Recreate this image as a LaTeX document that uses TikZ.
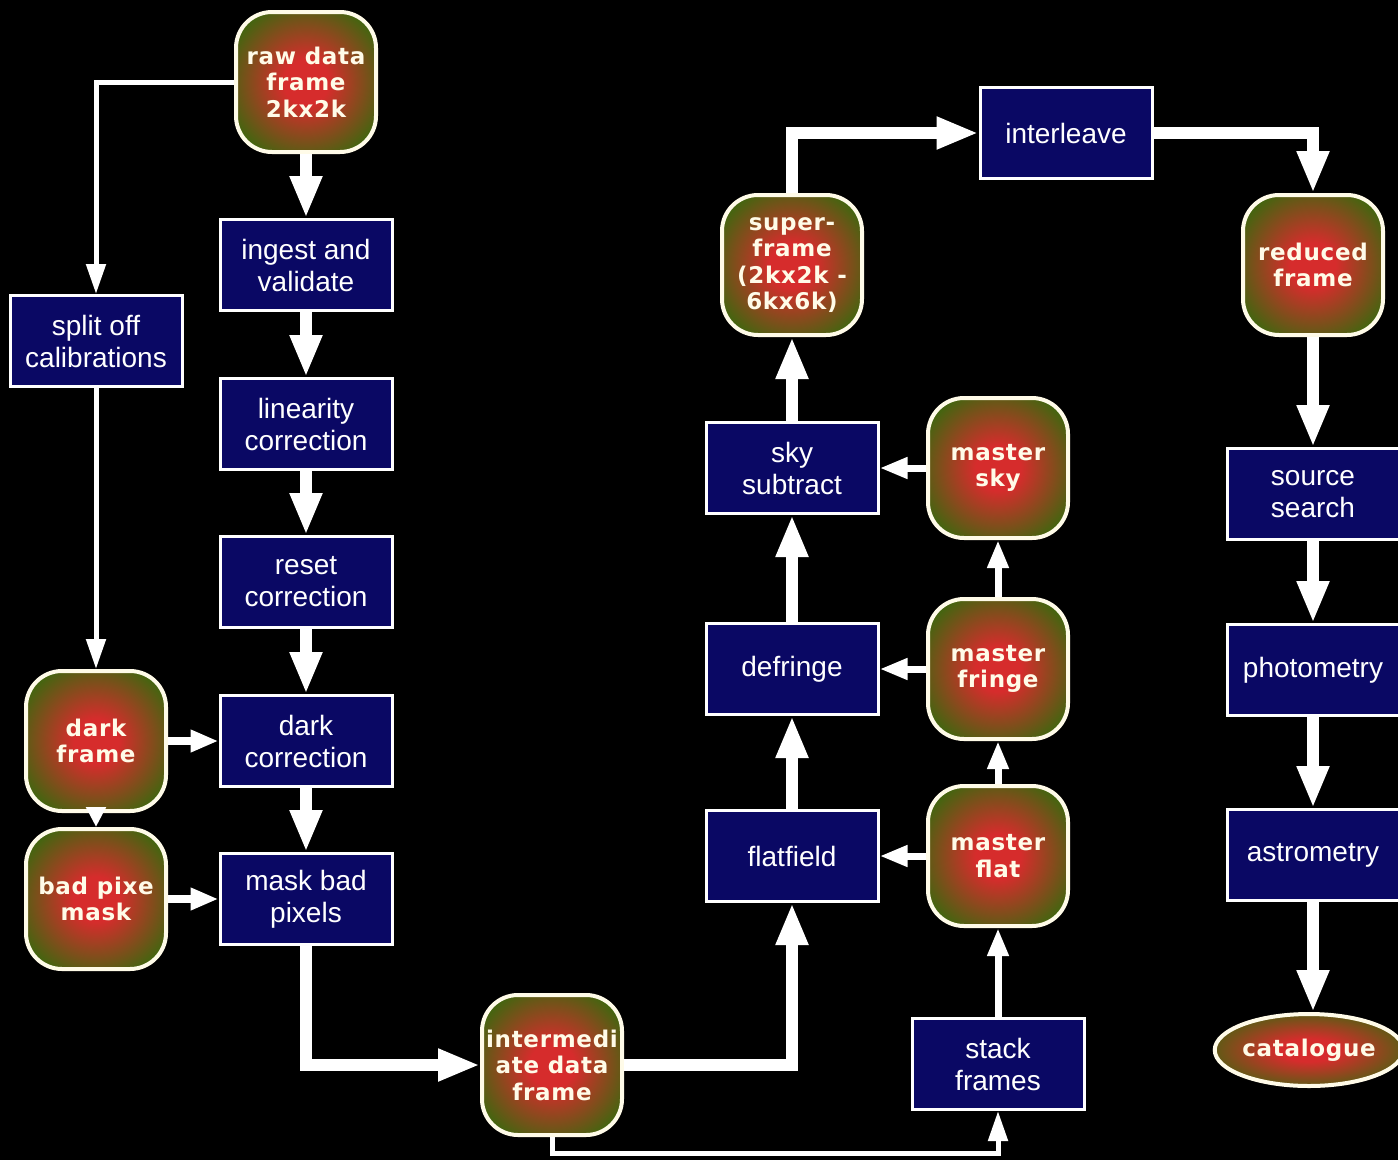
\documentclass[tikz,border=0pt]{standalone}
\usepackage{fontspec}
\setmainfont{Liberation Sans}
\newfontfamily\heavyfont{DejaVu Sans}[LetterSpace=3]
\usetikzlibrary{arrows.meta,shapes.geometric}
\definecolor{navy}{RGB}{10,8,100}
\definecolor{gred}{RGB}{214,44,44}
\definecolor{golive}{RGB}{70,100,16}
\definecolor{cream}{RGB}{255,251,232}
\pgfdeclareradialshading{glow}{\pgfpoint{0bp}{0bp}}{color(0bp)=(gred); color(8bp)=(gred); color(29bp)=(golive); color(50bp)=(golive)}
\tikzset{
  procbox/.style={draw=white, line width=3pt, fill=navy, minimum width=172pt, minimum height=91pt,
    inner sep=0pt, text=white, align=center, font=\fontsize{28}{32}\selectfont},
  databox/.style={draw=cream, line width=4pt, shade, shading=glow, rounded corners=36pt,
    minimum width=140pt, minimum height=140pt, inner sep=0pt, text=cream, align=center,
    font=\heavyfont\bfseries\fontsize{23}{26.5}\selectfont},
  bigarrow/.style={draw=white, line width=12pt, -{Triangle[length=42pt,width=30pt]}},
  midarrow/.style={draw=white, line width=8pt, -{Triangle[length=28pt,width=21pt]}},
  sidearrow/.style={draw=white, line width=7pt, -{Triangle[length=28pt,width=20pt]}},
  thinarrow/.style={draw=white, line width=5pt, -{Triangle[length=30pt,width=19pt]}},
}
\begin{document}
\begin{tikzpicture}[x=1pt,y=-1pt]
\fill[black] (0,0) rectangle (1398,1160);
\useasboundingbox (0,0) rectangle (1398,1160);
% left column
\node[databox] (raw) at (306,82) {raw data\\frame\\2kx2k};
\node[procbox] (ingest) at (306,265) {ingest and\\validate};
\node[procbox] (lin) at (306,424) {linearity\\correction};
\node[procbox] (reset) at (306,582) {reset\\correction};
\node[procbox] (darkc) at (306,741) {dark\\correction};
\node[procbox] (mask) at (306,899) {mask bad\\pixels};
\node[procbox] (split) at (96,341) {split off\\calibrations};
\node[databox] (darkf) at (96,741) {dark\\frame};
\node[databox] (badpix) at (96,899) {bad pixe\\mask};
\node[databox] (inter) at (552,1065) {intermedi\\ate data\\frame};
% middle columns
\node[procbox] (flat) at (792,856) {flatfield};
\node[procbox] (defr) at (792,669) {defringe};
\node[procbox] (skysub) at (792,468) {sky\\subtract};
\node[databox] (super) at (792,265) {super-\\frame\\(2kx2k -\\6kx6k)};
\node[procbox] (interl) at (1066,133) {interleave};
\node[databox] (mflat) at (998,856) {master\\flat};
\node[databox] (mfringe) at (998,669) {master\\fringe};
\node[databox] (msky) at (998,468) {master\\sky};
\node[procbox] (stack) at (998,1064) {stack\\frames};
% right column
\node[databox] (reduced) at (1313,265) {reduced\\frame};
\node[procbox] (source) at (1313,494) {source\\search};
\node[procbox] (phot) at (1313,670) {photometry};
\node[procbox] (astro) at (1313,855) {astrometry};
\node[databox, ellipse, sharp corners, minimum width=178pt, minimum height=72pt] (cat) at (1309,1050) {catalogue};
\coordinate (low) at (552,1153);
% connectors
\draw[thinarrow] (raw.west) -| (split.north);
\draw[bigarrow] (raw.south) -- (ingest.north);
\draw[bigarrow] (ingest.south) -- (lin.north);
\draw[bigarrow] (lin.south) -- (reset.north);
\draw[bigarrow] (reset.south) -- (darkc.north);
\draw[bigarrow] (darkc.south) -- (mask.north);
\draw[thinarrow] (split.south) -- (darkf.north);
\draw[midarrow] (darkf.east) -- (darkc.west);
\draw[midarrow] (badpix.east) -- (mask.west);
\draw[draw=white, line width=5pt, -{Triangle[length=20pt,width=19pt]}] (darkf.south) -- (badpix.north);
\draw[bigarrow] (mask.south) |- (inter.west);
\draw[bigarrow] (inter.east) -| (flat.south);
\draw[thinarrow] (inter.south) -- (low) -| (stack.south);
\draw[sidearrow] (stack.north) -- (mflat.south);
\draw[sidearrow] (mflat.north) -- (mfringe.south);
\draw[sidearrow] (mfringe.north) -- (msky.south);
\draw[sidearrow] (mflat.west) -- (flat.east);
\draw[sidearrow] (mfringe.west) -- (defr.east);
\draw[sidearrow] (msky.west) -- (skysub.east);
\draw[bigarrow] (flat.north) -- (defr.south);
\draw[bigarrow] (defr.north) -- (skysub.south);
\draw[bigarrow] (skysub.north) -- (super.south);
\draw[bigarrow] (super.north) |- (interl.west);
\draw[bigarrow] (interl.east) -| (reduced.north);
\draw[bigarrow] (reduced.south) -- (source.north);
\draw[bigarrow] (source.south) -- (phot.north);
\draw[bigarrow] (phot.south) -- (astro.north);
\draw[bigarrow] (astro.south) -- (astro.south |- cat.north);
\end{tikzpicture}
\end{document}
